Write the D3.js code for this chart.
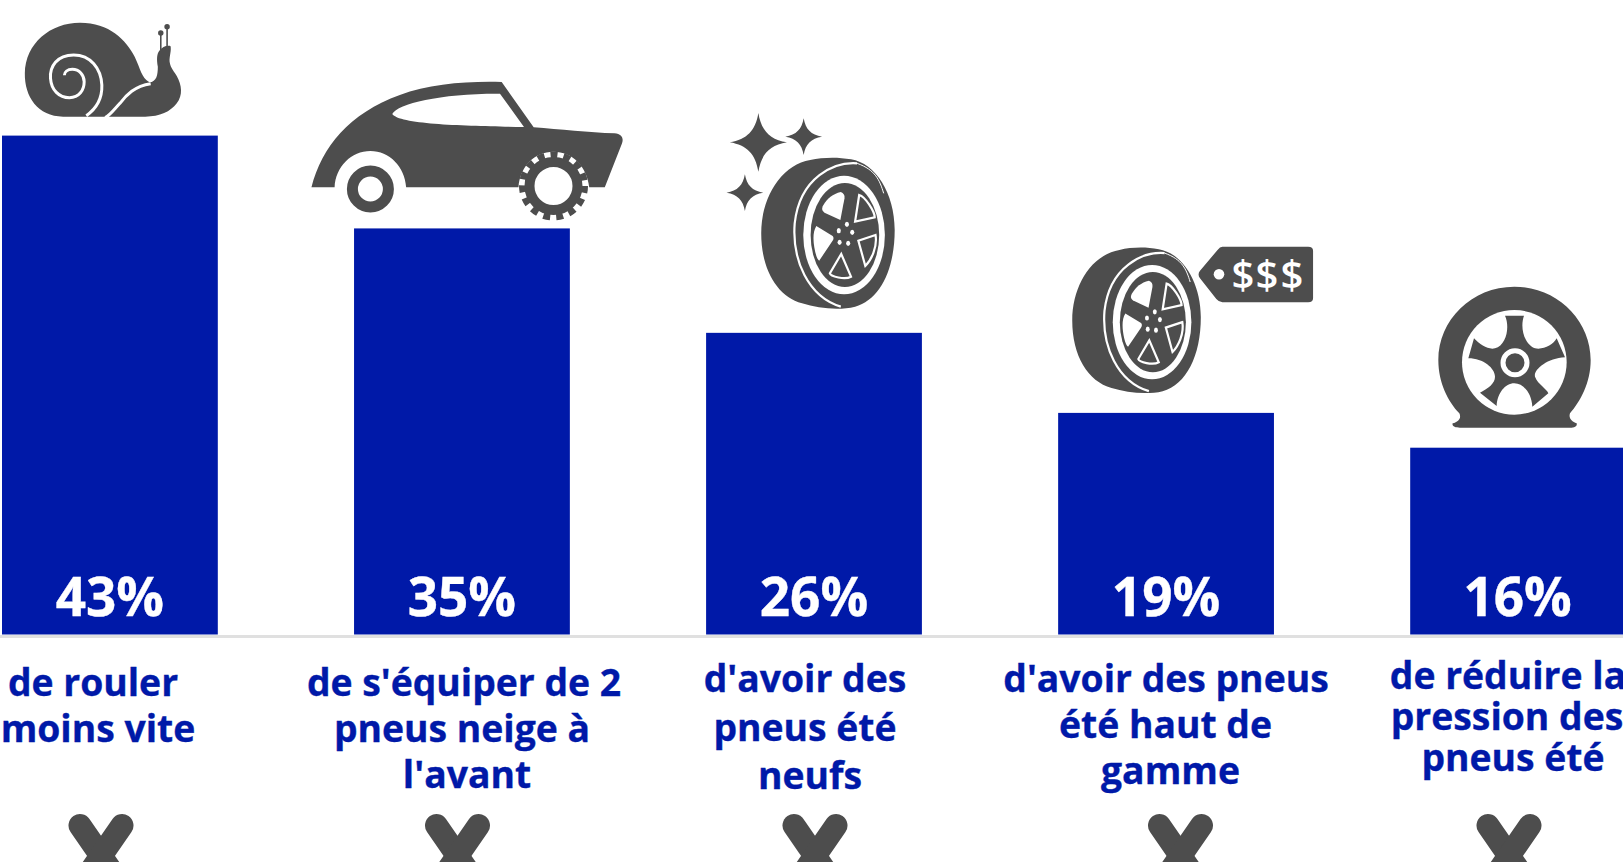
<!DOCTYPE html>
<html><head><meta charset="utf-8">
<script src="https://cdn.jsdelivr.net/npm/d3@7"></script>
<style>html,body{margin:0;padding:0;background:#fff;overflow:hidden}svg{display:block}text{font-family:"Open Sans",sans-serif;font-weight:700}</style>
</head><body><svg id="c" width="1623" height="862"></svg>
<script>
const categories = ["rouler","neige","neufs","gamme","pression"];
const values = [43,35,26,19.1,16.1];
const valueLabels = ["43%","35%","26%","19%","16%"];
const labelLines = [
  ["de rouler","moins vite"],
  ["de s'équiper de 2","pneus neige à","l'avant"],
  ["d'avoir des","pneus été","neufs"],
  ["d'avoir des pneus","été haut de","gamme"],
  ["de réduire la","pression des","pneus été"]
];
const BLUE="#0019a8", DARK="#4d4d4d", W=1623, H=862;
const labelCx=[[93,98],[464,462,467],[805,805,810],[1166,1165.5,1170.5],[1508,1507,1513]];
const labelY=[[695.5,741.5],[695.5,741.5,787.5],[691.5,740.5,788.5],[691.5,737.5,783.5],[689,730,770.5]];
const crossCx=[101,457.5,815,1180.5,1509];

const svg=d3.select("#c");
const x=d3.scaleBand().domain(categories).range([2,1626]).paddingInner(0.387).paddingOuter(0);
const y=d3.scaleLinear().domain([0,43]).range([634.5,135.6]);

svg.append("rect").attr("x",0).attr("y",635).attr("width",W).attr("height",3).attr("fill","#e0e0e0");
svg.selectAll("rect.bar").data(values).join("rect").attr("class","bar")
  .attr("x",(d,i)=>x(categories[i])).attr("y",d=>y(d)).attr("width",x.bandwidth()).attr("height",d=>y(0)-y(d)).attr("fill",BLUE);
svg.selectAll("text.val").data(valueLabels).join("text").attr("class","val")
  .attr("x",(d,i)=>x(categories[i])+x.bandwidth()/2+(i==4?-0.5:0)).attr("y",616).attr("text-anchor","middle")
  .attr("fill","#fff").attr("stroke","#fff").attr("stroke-width",0.4).attr("font-size",53).text(d=>d);
labelLines.forEach((lines,i)=>lines.forEach((t,j)=>{
  svg.append("text").attr("x",labelCx[i][j]).attr("y",labelY[i][j]).attr("text-anchor","middle")
    .attr("fill",BLUE).attr("stroke",BLUE).attr("stroke-width",0.35).attr("font-size",37.3).text(t);
}));
// crosses
crossCx.forEach(cx=>{
  const g=svg.append("g").attr("transform",`translate(${cx},847.5)`).attr("stroke",DARK).attr("stroke-width",23).attr("stroke-linecap","round");
  g.append("line").attr("x1",-21).attr("y1",-22).attr("x2",26).attr("y2",46);
  g.append("line").attr("x1",21).attr("y1",-22).attr("x2",-26).attr("y2",46);
});

// ---- decorative icons, authored in crop coordinates ----
function grp(tx,ty,sx,sy){return svg.append("g").attr("transform",`translate(${tx},${ty}) scale(${sx},${sy})`);}
const wl=(g,d,w)=>g.append("path").attr("d",d).attr("fill","none").attr("stroke","#fff").attr("stroke-width",w).attr("vector-effect","non-scaling-stroke");

// snail
let s=grp(0,0,1/2.376,1/3);
s.append("path").attr("fill",DARK).attr("d","M150,350C90,350 58,290 59,220C60,130 120,68 190,68C260,68 300,120 320,170C335,210 335,230 355,247C372,245 375,225 375,200C372,180 372,160 380,150C385,142 395,135 405,138C408,150 402,170 403,185C405,205 415,215 420,228C432,255 435,285 420,310C405,335 380,350 345,350Z");
wl(s,"M205,347C230,325 243,295 242,255C240,205 215,165 175,165C135,165 118,200 120,235C122,270 140,293 165,293C188,293 200,270 200,245C200,225 188,208 172,208C160,208 153,216 153,226",3);
wl(s,"M358,251C320,258 300,285 285,310C270,330 262,345 250,353",3);
s.selectAll("line.a").data([[382,98,150],[397,80,138]]).join("line").attr("x1",d=>d[0]).attr("x2",d=>d[0]).attr("y1",d=>d[1]).attr("y2",d=>d[2]).attr("stroke",DARK).attr("stroke-width",1.6).attr("vector-effect","non-scaling-stroke");
s.selectAll("ellipse.a").data([[382,99],[397,80]]).join("ellipse").attr("cx",d=>d[0]).attr("cy",d=>d[1]).attr("rx",6.5).attr("ry",8).attr("fill",DARK);

// car
let c=grp(0,0,1/2.376,1/3);
c.append("path").attr("fill",DARK).attr("d","M740,562C765,440 830,340 950,285C1020,252 1110,243 1192,246L1268,382C1330,388 1400,398 1460,400C1478,402 1482,415 1478,430L1437,562L1400,562C1395,500 1360,455 1315,455C1270,455 1235,500 1232,562L965,562C962,500 925,453 880,453C835,453 797,500 795,562Z");
c.append("path").attr("fill","#fff").attr("d","M1188,281L1245,381C1120,378 950,375 932,342C945,310 1050,280 1188,281Z");
svg.append("circle").attr("cx",370.4).attr("cy",189).attr("r",18).attr("fill","#fff").attr("stroke",DARK).attr("stroke-width",11);
svg.append("circle").attr("cx",553.5).attr("cy",186).attr("r",24).attr("fill","#fff").attr("stroke",DARK).attr("stroke-width",10);
svg.append("circle").attr("cx",553.5).attr("cy",186).attr("r",31).attr("fill","none").attr("stroke",DARK).attr("stroke-width",7).attr("stroke-dasharray","6.9 6.09");

// wheel with angled rim
function wheel(g){
  g.append("path").attr("fill",DARK).attr("d","M270,180C200,195 150,290 150,400C150,510 190,590 250,610C290,625 340,632 380,620C440,600 477,510 477,390C477,280 430,190 370,178C335,170 300,172 270,180Z");
  wl(g,"M385,190C330,185 245,230 232,370C225,480 265,590 345,620",2.2);
  wl(g,"M385,190C430,210 440,240 450,280",1);
  g.append("ellipse").attr("cx",353).attr("cy",405).attr("rx",100).attr("ry",178).attr("fill","#fff");
  g.append("ellipse").attr("cx",355).attr("cy",405).attr("rx",84).attr("ry",156).attr("fill",DARK);
  g.append("path").attr("fill","#fff").attr("d","M345,276C352,280 355,285 354,295L344,360L305,338C298,332 298,325 302,316C312,295 325,282 345,276Z");
  g.append("path").attr("fill","#fff").attr("d","M285,378L325,408C328,412 328,418 324,424L292,482C285,478 278,440 278,415C278,400 280,388 285,378Z");
  const o=[ "M390,285C405,290 428,335 428,352L380,365Z","M430,405L388,422L405,498C420,480 435,440 430,405Z","M346,462L318,520C320,530 355,540 370,530Z"];
  o.forEach(d=>wl(g,d,2.2));
  [[360,373],[373,397],[363,430],[342,427],[340,392]].forEach(p=>g.append("ellipse").attr("cx",p[0]).attr("cy",p[1]).attr("rx",5).attr("ry",8).attr("fill","#fff"));
}
wheel(grp(700,100,1/2.45,1/3));
wheel(grp(700+ (912-150*0.9633)/2.45,100+(440-170*0.9633)/3,0.9633/2.45,0.9633/3));

// sparkles
const star="M0,-1C.1,-.4 .4,-.1 1,0C.4,.1 .1,.4 0,1C-.1,.4 -.4,.1 -1,0C-.4,-.1 -.1,-.4 0,-1Z";
[[143,127,70,88],[254,110,45,55],[110,278,45,55]].forEach(p=>{
  grp(700,100,1/2.45,1/3).append("path").attr("fill",DARK).attr("d",star).attr("transform",`translate(${p[0]},${p[1]}) scale(${p[2]},${p[3]})`);
});

// price tag
let t=grp(700,100,1/2.45,1/3);
t.append("path").attr("fill",DARK).attr("d","M1280,440L1490,440Q1502,440 1502,452L1502,595Q1502,607 1490,607L1280,607Q1272,607 1265,597L1225,535Q1218,523 1225,512L1268,450Q1274,440 1280,440Z");
svg.append("circle").attr("cx",1219).attr("cy",274.3).attr("r",5.3).attr("fill","#fff");
[1243,1267,1292].forEach(px=>svg.append("text").attr("x",px).attr("y",289).attr("text-anchor","middle").attr("fill","#fff").attr("font-size",40).style("font-weight",600).text("$"));

// flat tyre
let f=grp(1400,270,1/3,1/3);
f.append("path").attr("fill",DARK).attr("d","M343,50C470,50 572,150 572,270C572,340 540,395 510,430C505,445 515,455 530,460C532,468 525,473 510,473L180,473C165,473 155,468 158,460C175,455 185,445 178,430C145,395 115,340 115,270C115,150 215,50 343,50Z");
f.append("circle").attr("cx",343).attr("cy",277).attr("r",157).attr("fill","#fff");
f.append("path").attr("fill",DARK).attr("d","M315,137L372,137C360,170 370,220 405,235C430,240 460,225 470,205L495,262C440,265 400,300 405,320C415,345 440,355 445,370L397,410C395,370 370,340 343,340C315,340 292,370 290,408L240,368C265,355 285,340 285,320C285,295 250,265 205,265L222,205C240,225 265,240 285,235C320,225 330,170 315,137Z");
f.append("circle").attr("cx",345).attr("cy",278).attr("r",36).attr("fill",DARK).attr("stroke","#fff").attr("stroke-width",15);
</script></body></html>
